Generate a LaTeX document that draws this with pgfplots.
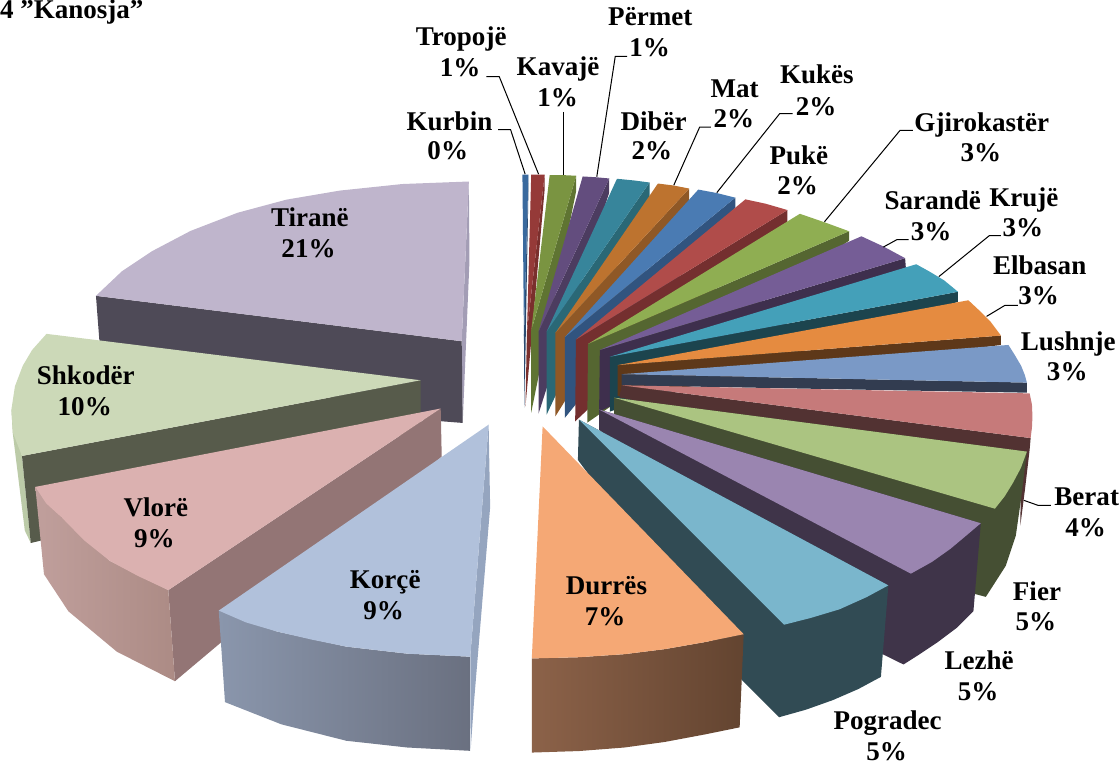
\documentclass[border=0pt]{standalone}
\usepackage{fontspec}
\setmainfont{Liberation Serif}
\usepackage{pgfplots}
\pgfplotsset{compat=1.18}
\definecolor{kuT}{HTML}{3A6A9E}\definecolor{kuW}{HTML}{2A4A70}
\definecolor{trT}{HTML}{953A38}\definecolor{trW}{HTML}{7A2F2D}
\definecolor{kaT}{HTML}{7A9441}\definecolor{kaW}{HTML}{5F7432}
\definecolor{peT}{HTML}{634D7E}\definecolor{peW}{HTML}{4C3C60}
\definecolor{diT}{HTML}{37859B}\definecolor{diW}{HTML}{2A6876}
\definecolor{maT}{HTML}{BD732F}\definecolor{maW}{HTML}{8F5826}
\definecolor{keT}{HTML}{4A7BB3}\definecolor{keW}{HTML}{31547F}
\definecolor{puT}{HTML}{B04C4A}\definecolor{puW}{HTML}{742F2F}
\definecolor{gjT}{HTML}{8FAE52}\definecolor{gjW}{HTML}{556631}
\definecolor{saT}{HTML}{755D96}\definecolor{saW}{HTML}{3E2F4D}
\definecolor{krT}{HTML}{44A0B9}\definecolor{krW}{HTML}{1C444E}
\definecolor{elT}{HTML}{E58B40}\definecolor{elW}{HTML}{5E3819}
\definecolor{luT}{HTML}{7A99C6}\definecolor{luW}{HTML}{323C50}
\definecolor{beT}{HTML}{C67A7A}\definecolor{beW}{HTML}{523232}
\definecolor{fiT}{HTML}{ABC481}\definecolor{fiW}{HTML}{454F33}
\definecolor{leT}{HTML}{9A85B0}\definecolor{leW}{HTML}{3F3449}
\definecolor{poT}{HTML}{7AB6CC}\definecolor{poW}{HTML}{314B54}
\definecolor{duT}{HTML}{F5A875}\definecolor{duA}{HTML}{8C6249}\definecolor{duB}{HTML}{634430}
\definecolor{koT}{HTML}{B1C1DB}\definecolor{koA}{HTML}{8A96AC}\definecolor{koB}{HTML}{6A7080}\definecolor{koS}{HTML}{95A5BF}
\definecolor{vlT}{HTML}{DBB1B0}\definecolor{vlA}{HTML}{C09F9C}\definecolor{vlB}{HTML}{AC8B85}\definecolor{vlW}{HTML}{937575}
\definecolor{shT}{HTML}{CCD9B8}\definecolor{shW}{HTML}{575B4B}\definecolor{shS}{HTML}{BCCBA8}
\definecolor{tiT}{HTML}{BFB5CC}\definecolor{tiW}{HTML}{4E4A57}\definecolor{tiS}{HTML}{A39DB5}
\newcommand{\lab}[6]{%
  \node[anchor=base,inner sep=0pt] at (axis cs:#1,#2) {#3};
  \node[anchor=base,inner sep=0pt] at (axis cs:#4,#5) {#6};}
\begin{document}
\begin{tikzpicture}[font=\fontsize{26.8}{30}\bfseries\selectfont]
\begin{axis}[at={(0,0)},anchor=south west,scale only axis,width=1119pt,height=758pt,
  xmin=0,xmax=1119,ymin=0,ymax=758,y dir=reverse,hide axis,clip=false]
% Tiranë
\addplot[fill=tiS,draw=none] coordinates {(465.9,184)(466.5,263)(459.8,423.3)(458.8,342.3)} --cycle;
\addplot[fill=tiW,draw=none] coordinates {(96.3,297.3)(458.8,342.3)(459.8,423.3)(418,420)(99.7,341.7)} --cycle;
\addplot[fill=tiT,draw=none] coordinates {(458.8,342.3)(96.3,297.3)(122,273)(152,253)(190,233)(236.6,215)(285,202)(338,193)(400,186.5)(465.9,184)} --cycle;
% Shkodër
\addplot[fill=shS,draw=none] coordinates {(12.5,410)(13.8,433)(25.8,530)(31.7,542.3)(23,456)} --cycle;
\addplot[fill=shW,draw=none] coordinates {(418,381)(23,456)(31.7,542.3)(41.3,540)(418,430)} --cycle;
\addplot[fill=shT,draw=none] coordinates {(418,381)(47.3,335)(33,351)(23.7,366.7)(16,387)(12.5,410)(14,433)(23,456)} --cycle;
% Vlorë
\addplot[fill=vlW,draw=none] coordinates {(438,409)(439,456.7)(174.6,679.3)(168,589)} --cycle;
\addplot[left color=vlA,right color=vlB,draw=none] coordinates {(36.2,486.7)(44.8,573.3)(69,610)(117,650)(174.6,679.3)(168,589)(110,560)(62,516.7)} --cycle;
\addplot[fill=vlT,draw=none] coordinates {(438,409)(36.2,486.7)(47,503)(62,516.7)(85,540)(110,560)(138,575)(168,589)} --cycle;
% Korçë
\addplot[fill=koS,draw=none] coordinates {(485.5,425)(487,506.7)(471,700)(467.6,748.3)(467.3,655)} --cycle;
\addplot[left color=koA,right color=koB,draw=none] coordinates {(218,609.3)(224.2,700)(280,722)(344.4,738.3)(405,745)(467.6,748.3)(467.3,655)(405,652)(344.4,645)(275.5,630)} --cycle;
\addplot[fill=koT,draw=none] coordinates {(485.5,425)(218,609.3)(245,621)(275.5,630)(310,638)(344.4,645)(405,652)(467.3,655)} --cycle;
% thin slices at the back
\addplot[fill=kuW,draw=none] coordinates {(520.5,337)(525,177.3)(525,190)(521,408)} --cycle;
\addplot[fill=kuT,draw=none] coordinates {(520.5,337)(519,177.3)(525,177.3)} --cycle;
\addplot[fill=trW,draw=none] coordinates {(523.5,333)(541,177.3)(541,192)(522,407)} --cycle;
\addplot[fill=trT,draw=none] coordinates {(523.5,333)(527.7,177.3)(541,177.3)} --cycle;
\addplot[fill=kaW,draw=none] coordinates {(527.7,331.7)(572.3,178.3)(572.3,193.3)(527.7,413)} --cycle;
\addplot[fill=kaT,draw=none] coordinates {(527.7,331.7)(546,177.7)(560,177.7)(572.3,178.3)} --cycle;
\addplot[fill=peW,draw=none] coordinates {(535,332.7)(605,181)(605,195)(535,414)} --cycle;
\addplot[fill=peT,draw=none] coordinates {(535,332.7)(578.7,179)(592,179.8)(605,181)} --cycle;
\addplot[fill=diW,draw=none] coordinates {(543,332.7)(645,185)(645,199.3)(543,415)} --cycle;
\addplot[fill=diT,draw=none] coordinates {(543,332.7)(612.7,181.3)(630,183)(645,185)} --cycle;
\addplot[fill=maW,draw=none] coordinates {(551.7,334)(684.3,191)(684.3,204.3)(551.7,416.7)} --cycle;
\addplot[fill=maT,draw=none] coordinates {(551.7,334)(653.3,186)(669,188)(684.3,191)} --cycle;
\addplot[fill=keW,draw=none] coordinates {(561,338.3)(730,200)(730,210)(561,418.3)} --cycle;
\addplot[fill=keT,draw=none] coordinates {(561,338.3)(693.3,192)(712,195.5)(730,200)} --cycle;
\addplot[fill=puW,draw=none] coordinates {(572,340.7)(781.7,212.3)(781.7,223.3)(571.3,421.7)} --cycle;
\addplot[fill=puT,draw=none] coordinates {(572,340.7)(740,201.7)(760,206)(781.7,212.3)} --cycle;
\addplot[fill=gjW,draw=none] coordinates {(584,345)(842.7,233.3)(842.7,242.7)(583.3,423)} --cycle;
\addplot[fill=gjT,draw=none] coordinates {(584,345)(794,216)(820,225)(842.7,233.3)} --cycle;
\addplot[fill=saW,draw=none] coordinates {(595.7,351)(898.3,260)(899,269.3)(595,412)} --cycle;
\addplot[fill=saT,draw=none] coordinates {(595.7,351)(855,238.3)(877,248.5)(898.3,260)} --cycle;
\addplot[fill=krW,draw=none] coordinates {(605.7,357.7)(950.7,293.3)(950.7,303.3)(605.7,412)} --cycle;
\addplot[fill=krT,draw=none] coordinates {(605.7,357.7)(909.3,266)(922,273)(937,282)(950.7,293.3)} --cycle;
\addplot[fill=elW,draw=none] coordinates {(613.3,366)(993.3,336.7)(993.3,346)(613.3,396.7)} --cycle;
\addplot[fill=elT,draw=none] coordinates {(613.3,366)(961,301.7)(972,312)(983,323)(993.3,336.7)} --cycle;
\addplot[fill=luW,draw=none] coordinates {(617.3,375)(1019,383.3)(1019,393.3)(617.3,386)} --cycle;
\addplot[fill=luT,draw=none] coordinates {(617.3,375)(1000.7,346)(1007,356)(1013.3,366.7)(1017,376)(1019,383.3)} --cycle;
% Berat
\addplot[fill=beW,draw=none] coordinates {(617.3,386)(1022.7,438.3)(1021.7,450)(1021,456)(1017,490)(1012.5,525)(1013,480)(615,398)} --cycle;
\addplot[fill=beT,draw=none] coordinates {(617.3,386)(1021.7,394)(1024,405)(1024.5,417)(1024,428)(1022.7,438.3)} --cycle;
% Fier
\addplot[fill=fiW,draw=none] coordinates {(610,398.3)(1019,451.7)(1013,500)(1008,535)(998,565)(978.3,595.7)(967,592.7)(610,420)} --cycle;
\addplot[fill=fiT,draw=none] coordinates {(610,398.3)(1019,451.7)(1013,468)(1005,483)(997,496)(987.3,508.3)} --cycle;
% Lezhë
\addplot[fill=leW,draw=none] coordinates {(595,410)(973.3,522.7)(966,610)(950,626)(930,641)(912,653)(896.7,662.7)(877,653)(595,430)} --cycle;
\addplot[fill=leT,draw=none] coordinates {(595,410)(973.3,522.7)(960,534)(943.3,548)(925,561)(904,572.7)} --cycle;
% Pogradec
\addplot[fill=poW,draw=none] coordinates {(575,420)(881.7,584.3)(874.3,675)(852,687)(826.7,698)(800,707.5)(773.3,715)(736.7,678.3)(574,460)} --cycle;
\addplot[fill=poT,draw=none] coordinates {(575,420)(881.7,584.3)(860,596)(833.3,608)(805,616.5)(778.3,623.3)} --cycle;
% Durrës
\addplot[left color=duA,right color=duB,draw=none] coordinates {(528.3,656.7)(575,655.5)(620,652.5)(660,647.5)(700,640.5)(738.3,632.7)(734.3,725)(700,732)(660,739.5)(620,745)(575,748.5)(528.3,750)} --cycle;
\addplot[fill=duT,draw=none] coordinates {(539,426.7)(738.3,632.7)(700,640.5)(660,647.5)(620,652.5)(575,655.5)(528.3,656.7)} --cycle;
% leader lines
\addplot[black,line width=1pt] coordinates {(495,132.7)(507.3,132.7)(521.7,176.7)};
\addplot[black,line width=1pt] coordinates {(483.3,80)(496,80)(535,176.7)};
\addplot[black,line width=1pt] coordinates {(559.3,115)(559.3,177.7)};
\addplot[black,line width=1pt] coordinates {(622.7,60)(611,60)(592.7,179.3)};
\addplot[black,line width=1pt] coordinates {(705.7,130)(694.7,130)(669,187.7)};
\addplot[black,line width=1pt] coordinates {(786.7,116.7)(774,116.7)(711.7,195)};
\addplot[black,line width=1pt] coordinates {(906,133.3)(893.3,133.3)(818.3,224)};
\addplot[black,line width=1pt] coordinates {(901.7,241.7)(890,241.7)(876.7,249)};
\addplot[black,line width=1pt] coordinates {(993.3,237.7)(981.7,237.7)(931.7,278.3)};
\addplot[black,line width=1pt] coordinates {(1010,306.7)(997.3,306.7)(979,317.7)};
\addplot[black,line width=1pt] coordinates {(1016,500)(1030,505)(1042.7,505)};
% labels (x, baseline y)
\node[anchor=base west,inner sep=0pt] at (axis cs:1,22.7) {4 "Kanosja"};
\lab{446.7}{133}{Kurbin}{445}{162.3}{0\%}
\lab{458.3}{49}{Tropojë}{457.3}{79.7}{1\%}
\lab{554.3}{79}{Kavajë}{554}{109.7}{1\%}
\lab{645.7}{29}{Përmet}{645}{59.7}{1\%}
\lab{649}{133}{Dibër}{647.3}{162.3}{2\%}
\lab{729.3}{100.7}{Mat}{728.7}{130.7}{2\%}
\lab{810.8}{87}{Kukës}{810}{119}{2\%}
\lab{793}{167.3}{Pukë}{791.7}{197.3}{2\%}
\lab{974.3}{134}{Gjirokastër}{973.3}{164}{3\%}
\lab{925.7}{211.7}{Sarandë}{924}{242.3}{3\%}
\lab{1016}{208.3}{Krujë}{1015}{238.3}{3\%}
\lab{1031.7}{276.3}{Elbasan}{1030.7}{306.3}{3\%}
\lab{1060}{351.7}{Lushnje}{1059}{381.7}{3\%}
\lab{1078.3}{505}{Berat}{1077.3}{535.7}{4\%}
\lab{1029}{599}{Fier}{1028}{629}{5\%}
\lab{971.7}{667.3}{Lezhë}{970.7}{698.3}{5\%}
\lab{881}{727.3}{Pogradec}{880}{758}{5\%}
\lab{602.3}{593}{Durrës}{601}{624}{7\%}
\lab{383}{587.3}{Korçë}{381.5}{618.3}{9\%}
\lab{155.6}{515.7}{Vlorë}{154.3}{546.3}{9\%}
\lab{86.2}{385}{Shkodër}{85.2}{415.7}{10\%}
\lab{308.3}{229}{Tiranë}{307}{259}{21\%}
\end{axis}
\end{tikzpicture}
\end{document}
